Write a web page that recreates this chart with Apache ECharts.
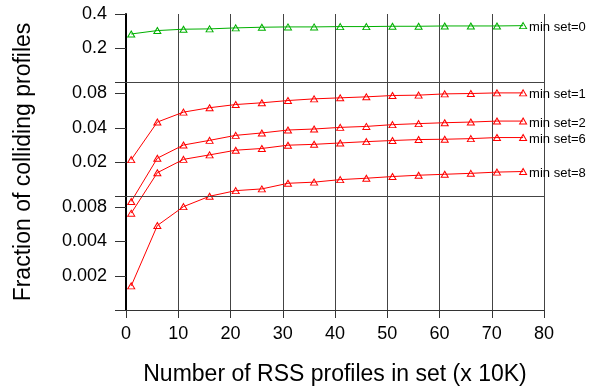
<!DOCTYPE html>
<html><head><meta charset="utf-8">
<script src="https://cdn.jsdelivr.net/npm/echarts@6/dist/echarts.min.js"></script>
<style>html,body{margin:0;padding:0;background:#fff}#c{width:595px;height:391px}</style>
</head><body><div id="c"></div>
<script>
const profiles = [1, 6, 11, 16, 21, 26, 31, 36, 41, 46, 51, 56, 61, 66, 71, 76];
const minSet0 = [0.267, 0.286, 0.294, 0.296, 0.302, 0.306, 0.308, 0.308, 0.310, 0.310, 0.312, 0.312, 0.314, 0.314, 0.314, 0.316];
const minSet1 = [0.0210, 0.0449, 0.0549, 0.0600, 0.0640, 0.0663, 0.0694, 0.0718, 0.0733, 0.0748, 0.0768, 0.0774, 0.0794, 0.0800, 0.0810, 0.0810];
const minSet2 = [0.0090, 0.0216, 0.0282, 0.0310, 0.0343, 0.0360, 0.0382, 0.0390, 0.0403, 0.0411, 0.0426, 0.0435, 0.0443, 0.0449, 0.0458, 0.0458];
const minSet6 = [0.0071, 0.0161, 0.0211, 0.0231, 0.0254, 0.0263, 0.0281, 0.0286, 0.0294, 0.0302, 0.0309, 0.0315, 0.0317, 0.0321, 0.0328, 0.0328];
const minSet8 = [0.00163, 0.00553, 0.0081, 0.0100, 0.0112, 0.0116, 0.0130, 0.0133, 0.0140, 0.0144, 0.0149, 0.0153, 0.0156, 0.0159, 0.0163, 0.0165];
const seriesNames = ['min set=0', 'min set=1', 'min set=2', 'min set=6', 'min set=8'];
const yLabelValues = [0.002, 0.004, 0.008, 0.02, 0.04, 0.08, 0.2, 0.4];
const yTickValues = [0.001, 0.002, 0.004, 0.008, 0.01, 0.02, 0.04, 0.08, 0.1, 0.2, 0.4];
const panelBreaks = [0.01, 0.1];

const FONT = '"Liberation Sans", Arial, Helvetica, sans-serif';
const RED = '#ff0000', GREEN = '#00b000';

function mk(name, vals, color) {
  return {
    name: name, type: 'line',
    data: profiles.map((x, i) => [x, vals[i]]),
    symbol: 'triangle', symbolSize: [7, 6],
    itemStyle: { color: 'rgba(255,255,255,0)', borderColor: color, borderWidth: 1 },
    lineStyle: { color: color, width: 1 },
    endLabel: { show: true, formatter: name, fontSize: 13, color: '#000', fontFamily: FONT, distance: 6, offset: [0, 2] },
    animation: false, z: 3
  };
}

const series = [
  mk(seriesNames[0], minSet0, GREEN),
  mk(seriesNames[1], minSet1, RED),
  mk(seriesNames[2], minSet2, RED),
  mk(seriesNames[3], minSet6, RED),
  mk(seriesNames[4], minSet8, RED)
];
series[0].markLine = {
  silent: true, symbol: 'none', animation: false,
  lineStyle: { color: '#444', type: 'solid', width: 1 },
  label: { show: false },
  data: panelBreaks.map(v => ({ yAxis: v }))
};

const chart = echarts.init(document.getElementById('c'), null, { renderer: 'canvas' });
chart.setOption({
  backgroundColor: '#fff',
  animation: false,
  textStyle: { fontFamily: FONT },
  grid: { left: 126, right: 51, top: 14, bottom: 79, containLabel: false },
  xAxis: {
    type: 'value', min: 0, max: 80, interval: 10,
    name: 'Number of RSS profiles in set (x 10K)', nameLocation: 'middle', nameGap: 53,
    nameTextStyle: { fontSize: 23, color: '#000', fontFamily: FONT },
    axisLine: { show: true, lineStyle: { color: '#333', width: 1 } },
    axisTick: { show: true, length: 8, lineStyle: { color: '#333' } },
    axisLabel: { fontSize: 18, color: '#000', margin: 15, fontFamily: FONT },
    splitLine: { show: true, lineStyle: { color: '#444', width: 1 } }
  },
  yAxis: {
    type: 'log', logBase: 10, min: 0.001, max: 0.4,
    name: 'Fraction of colliding profiles', nameLocation: 'middle', nameGap: 91, nameRotate: 90,
    nameTextStyle: { fontSize: 23, color: '#000', fontFamily: FONT },
    axisLine: { show: true, lineStyle: { color: '#000', width: 2 } },
    axisTick: { show: true, length: 11, customValues: yTickValues, lineStyle: { color: '#333' } },
    axisLabel: { fontSize: 18, color: '#000', margin: 19, fontFamily: FONT, customValues: yLabelValues,
      formatter: v => String(Number(Number(v).toPrecision(3))) },
    splitLine: { show: false }
  },
  series: series
});
</script></body></html>
